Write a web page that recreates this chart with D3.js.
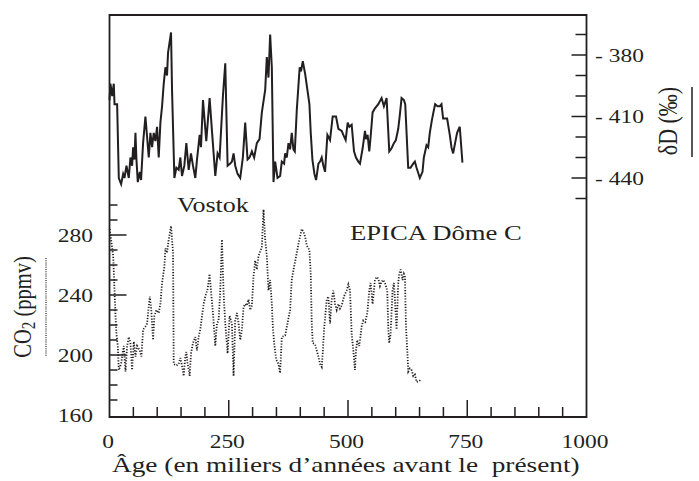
<!DOCTYPE html>
<html>
<head>
<meta charset="utf-8">
<script src="https://cdn.jsdelivr.net/npm/d3@7"></script>
<style>
  body { margin: 0; background: #fff; }
  text { font-family: "Liberation Serif", "Times New Roman", serif; fill: #231f20; }
</style>
</head>
<body>
<div id="chart-area"></div>
<script>
const INK = "#231f20";
const STRETCH = 1.27; // glyphs in the reference are wider than tall

// Vostok / EPICA deuterium (per mil), age in kyr BP
const dDAge = [0,2,5.6,9,10.5,16,19.5,24.4,28.6,31.4,35.6,40.4,43.9,47.4,49.5,52.3,54.4,56.5,59.3,63.5,66.2,70.4,75.3,78.8,82.3,85.8,89.3,92.7,96.2,99.7,103.2,106.7,110.2,113.7,117.2,120.6,122.7,129,131.1,136,140.2,145,148.5,152,156.9,161.1,166,170.8,175,179.9,183.4,189,191.8,196,202.9,209.9,214.8,221.8,226.6,230.8,237.8,242.7,247.6,253.1,256.6,260.1,263.6,268.5,274.1,279.6,284.5,289.4,293.6,298.5,303.3,308.9,314.5,319.4,326.4,329.8,333.3,336.8,340.3,343.8,347.3,352.2,357.7,361.2,366,368.2,371.7,375.2,378.6,382.1,385.6,388.5,392.6,398.7,401.5,405.2,410,414.9,419.1,421.9,425.4,429.6,433.1,438,441.4,444.9,448.4,451.9,456.8,462.3,467.9,474.9,479.8,486.8,490.2,495.1,499.3,502.8,507.7,512.6,516.7,521.6,525.1,530.7,535.6,537.7,541.1,544.6,547.4,551.6,556.5,563.5,570.4,575.3,580.9,586.5,591.4,596.2,600.4,605.3,608.8,612.3,617.2,620,626.2,631.1,636.7,640.2,643.7,650.6,656.2,659,664.6,668.1,671.5,675.7,679.9,682.7,687.6,692.5,696,699.4,703.6,707.8,713.4,716.9,720.4,724.5,728.7,734.3,739.9];
const dDValue = [-402,-394,-400,-394,-404,-404,-440,-443,-438,-440,-434,-440,-430,-434,-425,-431,-418,-431,-442,-437,-441,-423,-410,-420,-430,-418,-425,-418,-422,-415,-430,-413,-405,-394,-386,-390,-379,-369,-397,-440,-435,-436,-430,-439,-434,-423,-436,-428,-434,-440,-431,-419,-425,-402,-422,-401,-417,-439,-428,-430,-400,-384,-434,-433,-432,-428,-434,-438,-440,-430,-413,-431,-430,-427,-430,-423,-421,-408,-397,-381,-391,-370,-386,-442,-432,-440,-439,-432,-433,-428,-430,-423,-426,-418,-426,-427,-407,-386,-388,-383,-389,-397,-404,-418,-431,-438,-441,-433,-432,-430,-434,-437,-419,-421.5,-410,-410,-416,-417,-419,-421.5,-413,-415,-414,-427,-430,-432,-433,-425.5,-417,-421,-419,-427,-420,-408,-406,-404,-401,-405,-401,-427,-425.5,-423,-421.5,-416,-409,-401,-402,-404,-435,-435,-433,-432,-435,-440,-437,-430,-424,-425,-418,-412,-407,-404,-405,-405,-404,-411,-411,-411,-419,-425,-428,-423,-418,-415,-432.5];

// CO2 (ppmv), age in kyr BP
const co2Age = [0.5,7.7,10.5,12.6,14.6,17.4,19.5,24.4,27.2,30,33.5,37,40.4,43.9,47.4,50.9,54.4,57.9,63.5,66.9,70.4,75.3,78.8,84.4,87.2,91.4,94.1,98.3,103.2,106.7,110.2,115.1,117.2,120.6,124.1,129,133.2,134.6,140.2,145,148.5,152,155.5,159,161.1,163.9,168.1,170.8,175,179.9,183.4,186.8,190.4,193.9,197.4,200.8,205.7,209.9,212.7,216.9,221.8,225.2,228.7,232.2,235.7,239.2,242.7,247.6,251.7,256.6,260.1,263.6,267.1,270.6,274.1,277.6,281,284.5,288,291.5,295,298.5,301.9,305.4,308.9,312.4,315.9,319.4,322.9,326.4,329.8,333.3,336.8,340.3,342.4,345.2,349.4,354.2,357.7,361.2,368.2,373.1,378.7,382,387,392.6,396.1,399.6,403.1,406.6,410,413.5,419.1,421.9,424,426.1,431,434.5,437.9,441.4,444.9,447,449.8,455.4,458.9,462.3,465.8,469.3,472.8,476.3,479.8,483.3,486.8,491.6,497.2,500.7,504.2,507.7,511.2,514.6,516.7,519.5,523.7,528.6,532.1,536.3,540.5,544.6,547.4,551.6,556.5,560,563.5,567,570.4,573.9,577.4,579.5,582.3,584.4,586.5,589.3,593.4,596.2,598.3,601.8,605.3,607.4,610.3,614.4,617.2,619.4,621.5,624.3,626.4,629.8,633.3,636.8,640.2,643.7,650.6,654.2];
const co2Value = [284,266,243,226,214,206,190,194,201,206,189,206,212,208,190,209,199,206,203,199,217,219,221,239,232,210,226,230,228,234,248,259,271,268,277,286,268,194,193,194,198,193,186,199,202,194,186,201,208,212,203,212,217,226,234,239,244,254,243,228,206,221,223,243,277,241,221,201,226,221,186,223,228,221,210,217,232,234,233,237,230,233,252,263,257,266,269,272,297,277,266,243,250,234,219,208,197,194,188,212,213,221,230,250,259,268,274,279,284,282,279,273,270,254,221,208,207,203,199,194,192,201,217,237,239,221,237,243,234,230,234,231,233,239,243,247,243,214,203,190,203,210,206,219,223,222,228,243,248,234,250,252,251,246,249,250,248,246,243,217,208,214,243,248,237,217,248,254,257,250,254,252,219,203,189,191,190,186,187,182,183,184];

const ageTicks = d3.range(0, 1001, 50);
const ageLabels = [0, 250, 500, 750, 1000];
const co2Ticks = d3.range(160, 301, 10);
const co2Labels = [160, 200, 240, 280];
const dDTicks = d3.range(-450, -369, 10);
const dDLabels = [-380, -410, -440];

const svg = d3.select("#chart-area").append("svg")
    .attr("width", 699)
    .attr("height", 481);

const plotLeft = 109.5, plotRight = 586.5, plotTop = 15, plotBottom = 417;

const x = d3.scaleLinear().domain([0, 1000]).range([plotLeft, plotRight]);
const yCO2 = d3.scaleLinear().domain([160, 280]).range([415, 235]);
const yD = d3.scaleLinear().domain([-380, -440]).range([55, 178]);

//Add a text, widened horizontally like the reference type
function addText(str, px, py, size, anchor, rotated) {
    let t = svg.append("text")
        .attr("font-size", `${size}px`)
        .attr("text-anchor", anchor)
        .attr("transform", `translate(${px},${py}) scale(${STRETCH},1)` + (rotated ? " rotate(-90)" : ""))
        .style("white-space", "pre");
    return t.text(str);
}

// frame
svg.append("path")
    .attr("d", `M${plotLeft},${plotBottom} L${plotLeft},${plotTop} L${plotRight},${plotTop} L${plotRight},${plotBottom} Z`)
    .attr("fill", "none")
    .attr("stroke", INK)
    .attr("stroke-width", 1.8);

// bottom ticks (pointing up)
svg.append("g").selectAll("line")
    .data(ageTicks.filter(d => d > 0 && d < 1000))
    .join("line")
    .attr("x1", d => x(d)).attr("x2", d => x(d))
    .attr("y1", plotBottom)
    .attr("y2", d => plotBottom - (d % 250 === 0 ? 17 : 10))
    .attr("stroke", INK).attr("stroke-width", 1.5);

ageLabels.forEach(d => addText(String(d), x(d) - 1.5, 448, 18.5, "middle"));
addText("Âge (en miliers d\u2019années avant le  présent)", 112, 472, 21.5, "start");

// CO2 axis on the left
svg.append("g").selectAll("line")
    .data(co2Ticks.filter(d => d > 160))
    .join("line")
    .attr("x1", plotLeft).attr("x2", d => plotLeft + (d % 40 === 0 ? 17 : 8))
    .attr("y1", d => yCO2(d)).attr("y2", d => yCO2(d))
    .attr("stroke", INK).attr("stroke-width", 1.5);

co2Labels.forEach(d => addText(String(d), 93, yCO2(d) + 6.5, 18.5, "end"));

// deuterium axis on the right
svg.append("g").selectAll("line")
    .data(dDTicks)
    .join("line")
    .attr("x1", plotRight).attr("x2", d => plotRight - (dDLabels.includes(d) ? 15 : 11))
    .attr("y1", d => yD(d)).attr("y2", d => yD(d))
    .attr("stroke", INK).attr("stroke-width", 1.5);

dDLabels.forEach(d => addText("- " + (-d), 595, yD(d) + 6.5, 18.5, "start"));

// series
const dDLine = d3.line().x((d, i) => x(dDAge[i])).y(d => yD(d));
svg.append("path")
    .attr("d", dDLine(dDValue))
    .attr("fill", "none")
    .attr("stroke", INK)
    .attr("stroke-width", 2)
    .attr("stroke-linejoin", "miter");

const co2Line = d3.line().x((d, i) => x(co2Age[i])).y(d => yCO2(d));
svg.append("path")
    .attr("d", co2Line(co2Value))
    .attr("fill", "none")
    .attr("stroke", INK)
    .attr("stroke-width", 1.8)
    .attr("stroke-dasharray", "1.2 1.6");

// series names
addText("Vostok", 177, 212, 20.5, "start");
addText("EPICA Dôme C", 350, 240, 21, "start");

// axis titles with line-style keys
let co2Title = addText("", 31, 307, 20.5, "middle", true);
co2Title.append("tspan").text("CO");
co2Title.append("tspan").attr("font-size", "15px").attr("dy", 3).text("2");
co2Title.append("tspan").attr("dy", -3).text(" (ppmv)");
svg.append("line")
    .attr("x1", 46).attr("x2", 46).attr("y1", 258).attr("y2", 357)
    .attr("stroke", INK).attr("stroke-width", 1.2).attr("stroke-dasharray", "1 1.2");

addText("δD (‰)", 677, 121, 22, "middle", true);
svg.append("line")
    .attr("x1", 692).attr("x2", 692).attr("y1", 87).attr("y2", 157)
    .attr("stroke", INK).attr("stroke-width", 1.5);
</script>
</body>
</html>
